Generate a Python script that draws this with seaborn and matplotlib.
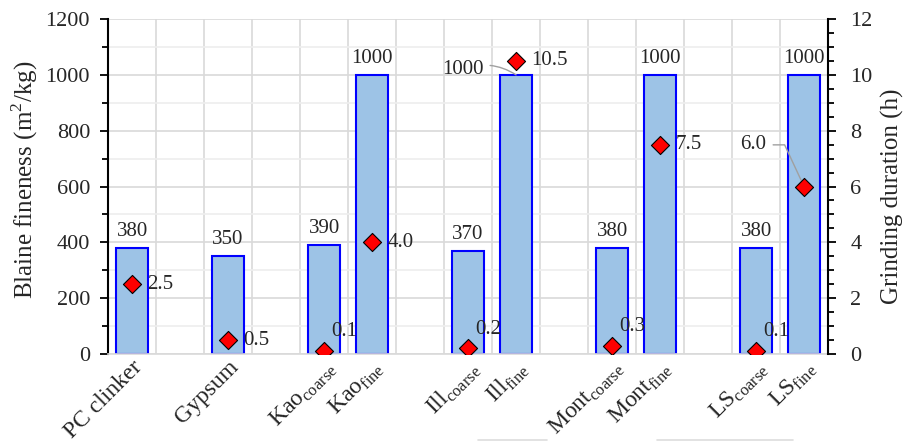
import numpy as np
import pandas as pd
import matplotlib
matplotlib.use("Agg")
import matplotlib.pyplot as plt
import seaborn as sns
from matplotlib.ticker import MultipleLocator
from matplotlib.lines import Line2D

# Materials and their slot on the x axis (gaps separate the groups)
materials = ["PC clinker", "Gypsum",
             "Kao$_\\mathregular{coarse}$", "Kao$_\\mathregular{fine}$",
             "Ill$_\\mathregular{coarse}$", "Ill$_\\mathregular{fine}$",
             "Mont$_\\mathregular{coarse}$", "Mont$_\\mathregular{fine}$",
             "LS$_\\mathregular{coarse}$", "LS$_\\mathregular{fine}$"]
slots = [0, 2, 4, 5, 7, 8, 10, 11, 13, 14]
blaine = [380, 350, 390, 1000, 370, 1000, 380, 1000, 380, 1000]      # m2/kg
grinding = [2.5, 0.5, 0.1, 4.0, 0.2, 10.5, 0.3, 7.5, 0.1, 6.0]       # h

df = pd.DataFrame({"material": materials, "slot": slots,
                   "blaine": blaine, "grinding": grinding})

sns.set_style("white")
plt.rcParams["font.family"] = ["Liberation Serif", "DejaVu Serif"]
plt.rcParams["mathtext.fontset"] = "custom"
plt.rcParams["mathtext.rm"] = "Liberation Serif"

fig = plt.figure(figsize=(9.16, 4.42), dpi=100)
ax = fig.add_axes([0.118, 0.199, 0.786, 0.758])

GRID = "#D9D9D9"
ax.set_axisbelow(True)

sns.barplot(data=df, x="slot", y="blaine", native_scale=True, width=0.67,
            color="#9DC3E6", saturation=1, edgecolor="#0000FF", linewidth=1.5,
            ax=ax, zorder=2)

ax.set_xlim(-0.5, 14.5)
ax.set_ylim(0, 1200)
ax.yaxis.set_major_locator(MultipleLocator(200))
ax.yaxis.set_minor_locator(MultipleLocator(100))
ax.grid(axis="y", which="major", color=GRID, linewidth=1.2)
ax.grid(axis="y", which="minor", color="#EEEEEE", linewidth=1.2)

# Category labels at slot centres, grid lines and small ticks at slot edges
ax.set_xticks(slots)
ax.set_xticklabels(materials, rotation=45, ha="right", rotation_mode="anchor",
                   fontsize=17)
ax.set_xticks(np.arange(0.5, 14.5, 1.0), minor=True)
ax.tick_params(axis="x", which="major", length=0, pad=2)
ax.tick_params(axis="x", which="minor", length=5, color=GRID, width=1.2)
ax.grid(axis="x", which="minor", color=GRID, linewidth=1.2)
ax.grid(axis="x", which="major", visible=False)

ax.tick_params(axis="y", which="major", length=6, width=1.3, labelsize=16,
               direction="out", left=True, color="black", pad=7)
ax.tick_params(axis="y", which="minor", length=4, width=1.3, left=True,
               direction="out", color="black")
ax.set_ylabel("Blaine fineness (m$^\\mathregular{2}$/kg)", fontsize=18)
ax.yaxis.set_label_coords(-0.095, 0.52)
ax.set_xlabel("")

ax.spines["top"].set_visible(False)
ax.spines["bottom"].set_color(GRID)
ax.spines["bottom"].set_linewidth(1.2)
ax.spines["left"].set_color("black")
ax.spines["left"].set_linewidth(1.5)
ax.spines["right"].set_visible(False)

# Grinding duration on the secondary axis
ax2 = ax.twinx()
sns.scatterplot(data=df, x="slot", y="grinding", marker="D", s=85,
                color="#FF0000", edgecolor="black", linewidth=0.8,
                ax=ax2, zorder=5)
ax2.set_ylim(0, 12)
ax2.set_xlim(-0.5, 14.5)
ax2.yaxis.set_major_locator(MultipleLocator(2))
ax2.yaxis.set_minor_locator(MultipleLocator(0.5))
ax2.tick_params(axis="y", which="major", length=6, width=1.3, labelsize=16,
                direction="out", right=True, color="black", pad=10)
ax2.tick_params(axis="y", which="minor", length=4, width=1.3, right=True,
                direction="out", color="black")
ax2.set_ylabel("Grinding duration (h)", fontsize=18)
ax2.yaxis.set_label_coords(1.074, 0.47)
ax2.set_xlabel("")
for side in ["top", "left", "bottom"]:
    ax2.spines[side].set_visible(False)
ax2.spines["right"].set_color("black")
ax2.spines["right"].set_linewidth(1.5)

# Bar value labels
for i, (s, v) in enumerate(zip(slots, blaine)):
    if i == 5:
        ax.annotate(f"{v:.0f}", xy=(s, v), xytext=(-38, 4),
                    textcoords="offset points", ha="center", va="center",
                    fontsize=15,
                    arrowprops=dict(arrowstyle="-", color="#A0A0A0", lw=1.0,
                                    shrinkA=2, shrinkB=0,
                                    connectionstyle="arc3,rad=-0.25"))
    else:
        ax.annotate(f"{v:.0f}", xy=(s, v), xytext=(0, 5),
                    textcoords="offset points", ha="center", va="bottom",
                    fontsize=15)

# Grinding duration labels
for i, (s, h) in enumerate(zip(slots, grinding)):
    if i == 9:
        ax2.annotate(f"{h:.1f}", xy=(s, h), xytext=(-37, 30),
                     textcoords="offset points", ha="center", va="center",
                     fontsize=15,
                     arrowprops=dict(arrowstyle="-", color="#A0A0A0", lw=1.0,
                                     shrinkA=3, shrinkB=5,
                                     connectionstyle="angle,angleA=0,angleB=115,rad=0"))
    elif h < 1 and i != 1:
        ax2.annotate(f"{h:.1f}", xy=(s, h), xytext=(5, 14),
                     textcoords="offset points", ha="left", va="center",
                     fontsize=15)
    else:
        ax2.annotate(f"{h:.1f}", xy=(s, h), xytext=(11, 0),
                     textcoords="offset points", ha="left", va="center",
                     fontsize=15)

# Faint edges at the bottom of the canvas
for x0, x1 in [(478, 547), (657, 793)]:
    fig.add_artist(Line2D([x0 / 916, x1 / 916], [2 / 442, 2 / 442],
                          color="#DDDDDD", lw=1.2, transform=fig.transFigure))

fig.savefig("out.png", dpi=100)
